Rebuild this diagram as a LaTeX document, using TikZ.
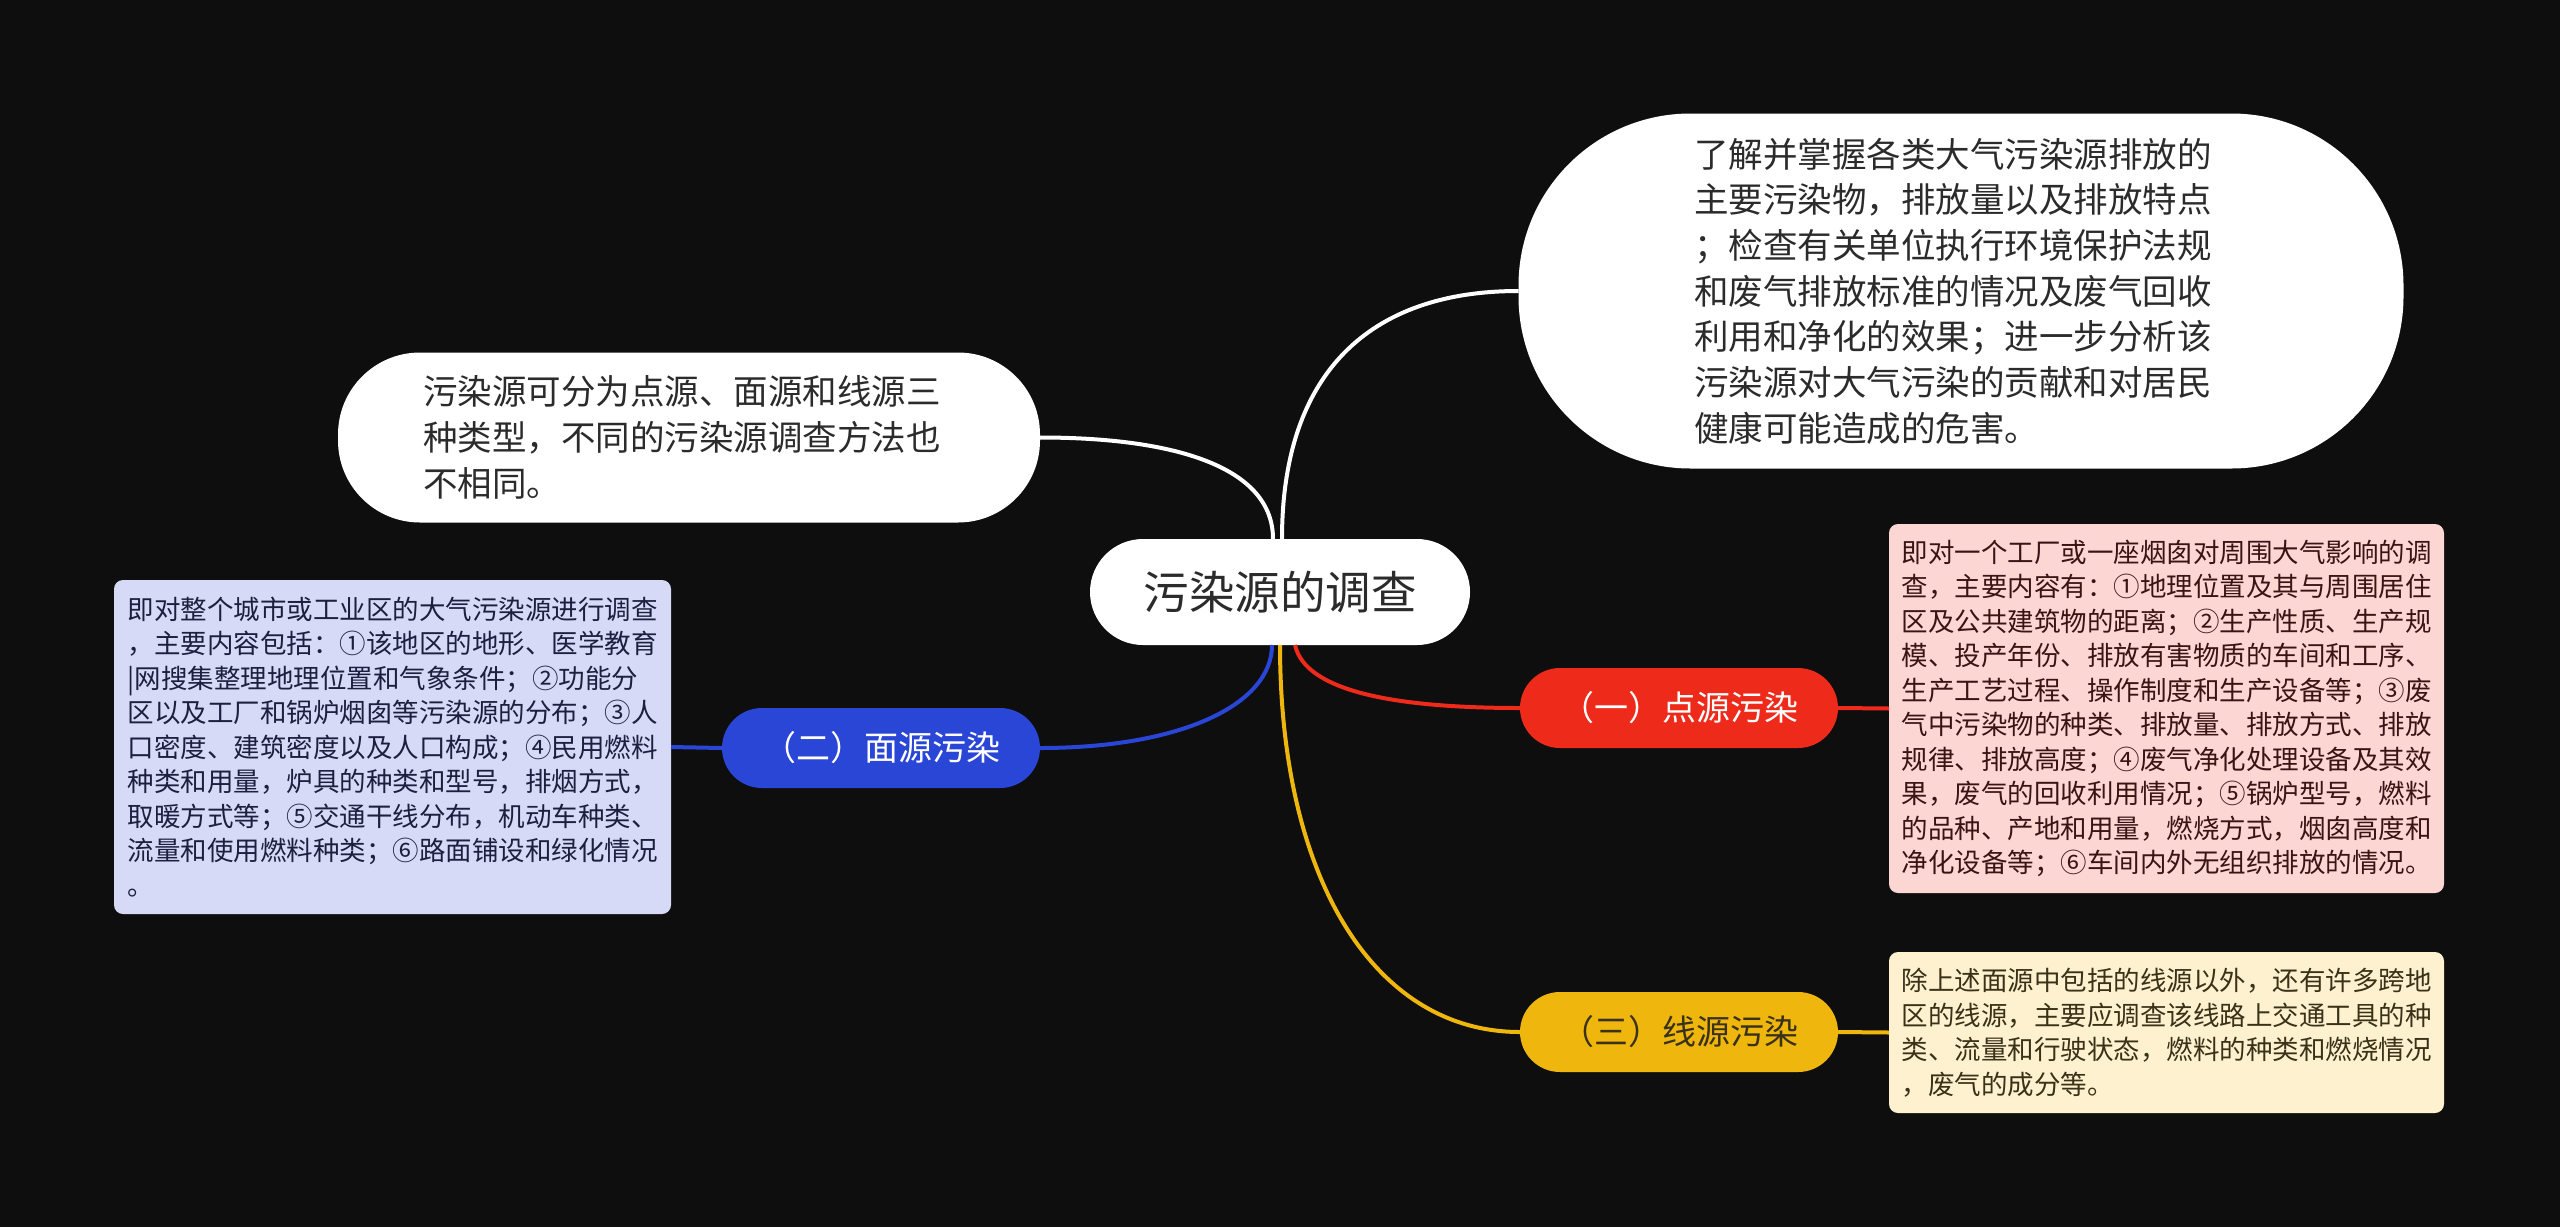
\documentclass[tikz,border=0pt]{standalone}
\usepackage{fontspec}
\setmainfont{Noto Sans CJK SC}
\usetikzlibrary{calc}
\definecolor{bgc}{HTML}{0E0E0E}
\definecolor{txtdark}{HTML}{2B2B2B}
\definecolor{cred}{HTML}{EE2A1B}
\definecolor{cblue}{HTML}{2A46D7}
\definecolor{cyel}{HTML}{EFB60E}
\definecolor{fred}{HTML}{FBD6D3}
\definecolor{fblue}{HTML}{D6DAF7}
\definecolor{fyel}{HTML}{FDF1CF}
\definecolor{tred}{HTML}{3A1414}
\definecolor{tblue}{HTML}{1C1F3D}
\definecolor{tyel}{HTML}{3A3218}
\begin{document}
\begin{tikzpicture}[x=1pt,y=-1pt,
  base/.style={rectangle, inner sep=0pt, outer sep=0pt},
  topic/.style={base, fill=white, text=txtdark, align=left},
  bigtxt/.style={font=\fontsize{34.5}{45.7}\selectfont},
  branch/.style={base, minimum width=318pt, minimum height=80pt, rounded corners=40pt, font=\fontsize{34}{40}\selectfont},
  detail/.style={base, align=left, rounded corners=9pt, font=\fontsize{26.5}{34.5}\selectfont},
  link/.style={line width=4pt},
]
\useasboundingbox (0,0) rectangle (2560,1227);
\fill[bgc] (0,0) rectangle (2560,1227);

% central
\node[topic, minimum width=380pt, minimum height=106pt, rounded corners=53pt,
      font=\fontsize{45.5}{50}\selectfont] (c) at (1280,592) {污染源的调查};

% top right description
\node[topic, bigtxt, minimum width=885pt, minimum height=355pt, rounded corners=172pt] (tr) at (1961,291)
{了解并掌握各类大气污染源排放的\hspace*{16pt}\\
主要污染物，排放量以及排放特点\\
；检查有关单位执行环境保护法规\\
和废气排放标准的情况及废气回收\\
利用和净化的效果；进一步分析该\\
污染源对大气污染的贡献和对居民\\
健康可能造成的危害。};

% left description
\node[topic, bigtxt, minimum width=702pt, minimum height=170pt, rounded corners=82pt] (lw) at (689,437.5)
{污染源可分为点源、面源和线源三\hspace*{14pt}\\
种类型，不同的污染源调查方法也\\
不相同。};

% branches
\node[branch, fill=cred, text=white] (b1) at (1679,708) {（一）点源污染};
\node[branch, fill=cblue, text=white] (b2) at (881,748) {（二）面源污染};
\node[branch, fill=cyel, text=tyel] (b3) at (1679,1032) {（三）线源污染};

% detail boxes
\node[detail, fill=fred, text=tred, minimum width=555pt, minimum height=369pt] (d1) at (2166.5,708.5)
{即对一个工厂或一座烟囱对周围大气影响的调\\
查，主要内容有：①地理位置及其与周围居住\\
区及公共建筑物的距离；②生产性质、生产规\\
模、投产年份、排放有害物质的车间和工序、\\
生产工艺过程、操作制度和生产设备等；③废\\
气中污染物的种类、排放量、排放方式、排放\\
规律、排放高度；④废气净化处理设备及其效\\
果，废气的回收利用情况；⑤锅炉型号，燃料\\
的品种、产地和用量，燃烧方式，烟囱高度和\\
净化设备等；⑥车间内外无组织排放的情况。};

\node[detail, fill=fblue, text=tblue, minimum width=557pt, minimum height=334pt] (d2) at (392.5,747)
{即对整个城市或工业区的大气污染源进行调查\\
，主要内容包括：①该地区的地形、医学教育\\
|网搜集整理地理位置和气象条件；②功能分\\
区以及工厂和锅炉烟囱等污染源的分布；③人\\
口密度、建筑密度以及人口构成；④民用燃料\\
种类和用量，炉具的种类和型号，排烟方式，\\
取暖方式等；⑤交通干线分布，机动车种类、\\
流量和使用燃料种类；⑥路面铺设和绿化情况\\
。};

\node[detail, fill=fyel, text=tyel, minimum width=555pt, minimum height=161pt] (d3) at (2166.5,1032.5)
{除上述面源中包括的线源以外，还有许多跨地\\
区的线源，主要应调查该线路上交通工具的种\\
类、流量和行驶状态，燃料的种类和燃烧情况\\
，废气的成分等。};

% connectors from central node
\coordinate (s1) at ([xshift=2pt]c.north);
\coordinate (s2) at ([xshift=-7pt]c.north);
\coordinate (s3) at ([xshift=-8pt]c.south);
\coordinate (s4) at (c.south);
\coordinate (s5) at ([xshift=15pt]c.south);

\draw[link, white] (s1) .. controls ($(s1)+(0,-165)$) and ($(tr.west)+(-150,0)$) .. (tr.west);
\draw[link, white] (s2) .. controls ($(s2)+(0,-70)$) and ($(lw.east)+(140,0)$) .. (lw.east);
\draw[link, cblue] (s3) .. controls ($(s3)+(0,60)$) and ($(b2.east)+(140,0)$) .. (b2.east);
\draw[link, cyel] (s4) .. controls ($(s4)+(0,235)$) and ($(b3.west)+(-145,0)$) .. (b3.west);
\draw[link, cred] (s5) .. controls ($(s5)+(10,45)$) and ($(b1.west)+(-130,0)$) .. (b1.west);

% branch to detail
\draw[link, cred] (b1.east) -- (d1.west);
\draw[link, cblue] (b2.west) -- (d2.east);
\draw[link, cyel] (b3.east) -- (d3.west);
\end{tikzpicture}
\end{document}
